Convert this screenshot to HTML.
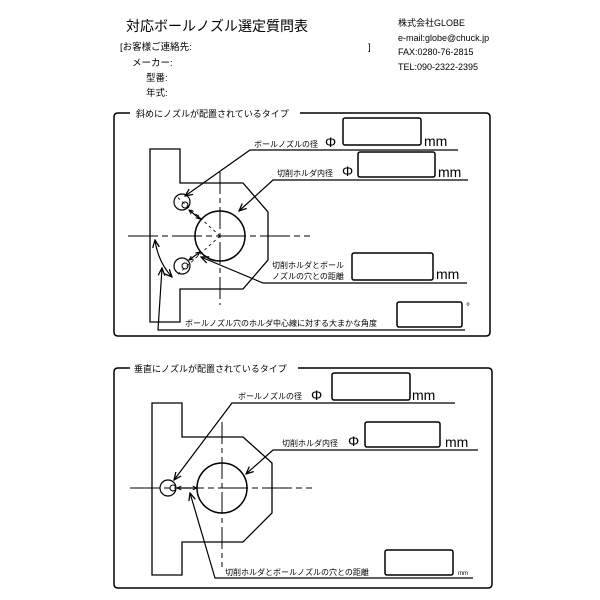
<!DOCTYPE html>
<html><head><meta charset="utf-8"><style>
html,body{margin:0;padding:0;background:#fff}
svg{display:block}
text{font-family:"Liberation Sans","Noto Sans CJK JP",sans-serif;fill:#000}
</style></head><body>
<svg width="600" height="600" viewBox="0 0 600 600" xmlns="http://www.w3.org/2000/svg">
<defs>
<marker id="a" viewBox="0 0 10 10" refX="9" refY="5" markerWidth="7" markerHeight="7" orient="auto-start-reverse"><path d="M0,1 L9,5 L0,9" fill="none" stroke="#000" stroke-width="1.5"/></marker>
<marker id="s" viewBox="0 0 10 10" refX="9" refY="5" markerWidth="4" markerHeight="4" orient="auto-start-reverse"><path d="M0,1 L9,5 L0,9" fill="none" stroke="#000" stroke-width="2"/></marker>
</defs>
<!-- header -->
<text x="126" y="31" font-size="14">対応ボールノズル選定質問表</text>
<text x="120" y="50" font-size="9.5">[お客様ご連絡先:</text>
<text x="368" y="50" font-size="9.5">]</text>
<text x="132" y="66" font-size="9.5">メーカー:</text>
<text x="146" y="81" font-size="9.5">型番:</text>
<text x="146" y="96" font-size="9.5">年式:</text>
<text x="398" y="26" font-size="9">株式会社GLOBE</text>
<text x="398" y="41" font-size="9">e-mail:globe@chuck.jp</text>
<text x="398" y="55" font-size="9">FAX:0280-76-2815</text>
<text x="398" y="70" font-size="9">TEL:090-2322-2395</text>

<g fill="none" stroke="#000" stroke-width="1.5">
<!-- section 1 -->
<path d="M130,113 H118 Q114,113 114,117 V332 Q114,336 118,336 H486 Q490,336 490,332 V117 Q490,113 486,113 H300"/>
<path d="M150,149 H180 V183 H243 L268,212 V260 L243,289 H180 V322 H150 Z" stroke-width="1.3"/>
<circle cx="220" cy="236" r="25"/>
<circle cx="182" cy="202" r="8" stroke-width="1.2"/>
<circle cx="185" cy="205" r="3" stroke-width="1"/>
<circle cx="182" cy="266" r="8" stroke-width="1.2"/>
<circle cx="185" cy="266" r="3" stroke-width="1"/>
<path d="M128,236 H310" stroke-width="1" stroke-dasharray="30,4,6,4"/>
<path d="M220,172 V305" stroke-width="1" stroke-dasharray="22,4,5,4"/>
<path d="M220,236 L176,196 M220,236 L176,276" stroke-width="0.8" stroke-dasharray="3,3"/>
<rect x="343" y="118" width="78" height="27" rx="2"/>
<rect x="358" y="152" width="77" height="25" rx="2"/>
<rect x="352" y="253" width="81" height="27" rx="2"/>
<rect x="397" y="302" width="65" height="25" rx="2"/>
<path d="M458,150 H250 L185,196" stroke-width="1.2" marker-end="url(#a)"/>
<path d="M468,180 H273 L239,211" stroke-width="1.2" marker-end="url(#a)"/>
<path d="M467,283 H263 L201,257" stroke-width="1.2" marker-end="url(#a)"/>
<path d="M465,330 H158 L162,268" stroke-width="1.2" marker-end="url(#a)"/>
<path d="M189,210 L200,219" stroke-width="1.2" marker-start="url(#s)" marker-end="url(#s)"/>
<path d="M189,260 L200,252" stroke-width="1.2" marker-start="url(#s)" marker-end="url(#s)"/>
<path d="M155,240 Q158,262 172,277" stroke-width="1.2" marker-start="url(#a)" marker-end="url(#a)"/>

<!-- section 2 -->
<path d="M130,368 H118 Q114,368 114,372 V584 Q114,588 118,588 H488 Q492,588 492,584 V372 Q492,368 488,368 H298"/>
<path d="M152,403 H182 V437 H243 L272,463 V513 L243,542 H182 V575 H152 Z" stroke-width="1.3"/>
<circle cx="222" cy="488" r="25"/>
<circle cx="168" cy="488" r="8" stroke-width="1.2"/>
<circle cx="173" cy="488" r="3" stroke-width="1"/>
<path d="M130,488 H312" stroke-width="1" stroke-dasharray="30,4,6,4"/>
<path d="M222,422 V567" stroke-width="1" stroke-dasharray="22,4,5,4"/>
<rect x="332" y="373" width="78" height="27" rx="2"/>
<rect x="365" y="422" width="75" height="25" rx="2"/>
<rect x="385" y="550" width="68" height="25" rx="2"/>
<path d="M455,403 H232 L174,480" stroke-width="1.2" marker-end="url(#a)"/>
<path d="M478,450 H273 L246,474" stroke-width="1.2" marker-end="url(#a)"/>
<path d="M473,578 H215 L190,493" stroke-width="1.2" marker-end="url(#a)"/>
<path d="M177,488 L197,488" stroke-width="1.2" marker-start="url(#s)" marker-end="url(#s)"/>
</g>

<text x="136" y="117" font-size="9">斜めにノズルが配置されているタイプ</text>
<text x="254" y="147" font-size="8">ボールノズルの径</text>
<text x="325" y="147" font-size="14">Φ</text>
<text x="424" y="146" font-size="14">mm</text>
<text x="277" y="176" font-size="8">切削ホルダ内径</text>
<text x="342" y="176" font-size="14">Φ</text>
<text x="438" y="177" font-size="14">mm</text>
<text x="272" y="268" font-size="8">切削ホルダとボール</text>
<text x="272" y="279" font-size="8">ノズルの穴との距離</text>
<text x="436" y="279" font-size="14">mm</text>
<text x="185" y="326" font-size="8">ボールノズル穴のホルダ中心線に対する大まかな角度</text>
<text x="466" y="310" font-size="10">°</text>

<text x="134" y="372" font-size="9">垂直にノズルが配置されているタイプ</text>
<text x="238" y="399" font-size="8">ボールノズルの径</text>
<text x="311" y="400" font-size="14">Φ</text>
<text x="412" y="400" font-size="14">mm</text>
<text x="282" y="446" font-size="8">切削ホルダ内径</text>
<text x="348" y="446" font-size="14">Φ</text>
<text x="445" y="447" font-size="14">mm</text>
<text x="225" y="575" font-size="8">切削ホルダとボールノズルの穴との距離</text>
<text x="458" y="575" font-size="6">mm</text>
</svg>
</body></html>
